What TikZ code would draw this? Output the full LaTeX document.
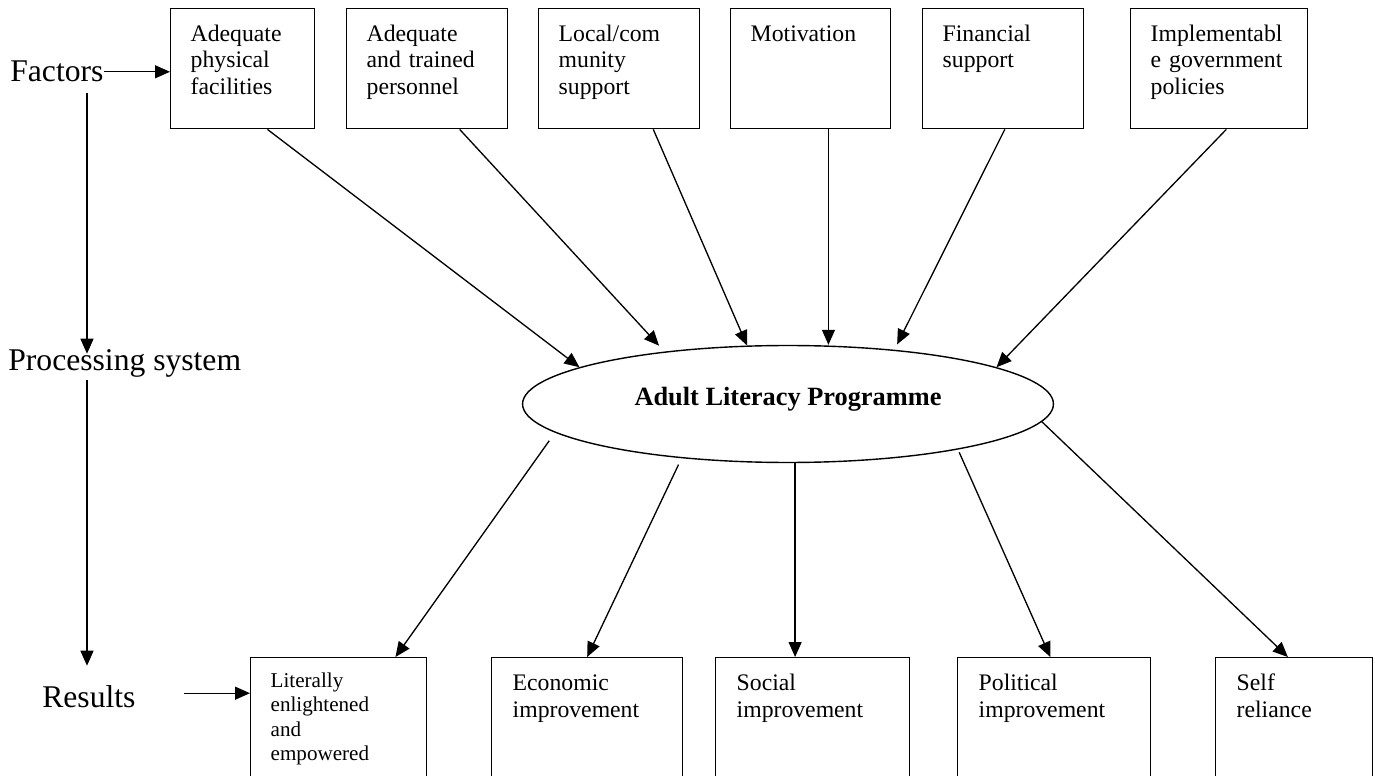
\documentclass[tikz,border=0pt]{standalone}
\usepackage{fontspec}
\setmainfont{Liberation Serif}
\usetikzlibrary{shapes.geometric}
\usetikzlibrary{arrows.meta}
\usetikzlibrary{calc}

\begin{document}
\begin{tikzpicture}[
  x=0.02cm, y=-0.02cm,
  factor/.style={draw, line width=0.8pt, anchor=north west, align=left, inner xsep=0.4cm, inner ysep=0.32cm, text height=0.335cm, text depth=1.425cm, font=\fontsize{13.5}{15.1}\selectfont},
  result/.style={factor, inner xsep=0.42cm, text depth=1.825cm, font=\fontsize{13.5}{15.6}\selectfont},
  stage/.style={anchor=base west, inner sep=0pt, font=\fontsize{18}{20}\selectfont},
  arrow/.style={-{Triangle[length=0.3cm, width=0.26cm]}, line width=0.75pt}
]
\useasboundingbox (0,0) rectangle (1375,776);

% stages on the left
\node[stage] (fac)  at (10,82)  {Factors};
\node[stage] (proc) at (8,371)  {Processing system};
\node[stage] (res)  at (42,707) {Results};
\coordinate (lx) at (87,0);

% factors
\node[factor, text width=2.08cm] (f1) at (170,8)  {Adequate\\physical\\facilities};
\node[factor, text width=2.42cm] (f2) at (346,8)  {Adequate\\and trained\\personnel};
\node[factor, text width=2.42cm] (f3) at (538,8)  {Local/com\\munity\\support};
\node[factor, text width=2.40cm] (f4) at (730,8)  {Motivation};
\node[factor, text width=2.42cm] (f5) at (922,8)  {Financial\\support};
\node[factor, text width=2.74cm] (f6) at (1130,8) {Implementabl\\e government\\policies};

% programme
\node[ellipse, draw, line width=0.8pt, minimum width=10.62cm, minimum height=2.34cm, inner sep=0pt, text depth=0.31cm, font=\fontsize{15}{18}\selectfont\bfseries] (prog) at (788,404) {Adult Literacy Programme};

% results
\node[result, text width=2.72cm, inner xsep=0.4cm, text height=0.28cm, text depth=1.88cm, font=\fontsize{12}{13.8}\selectfont] (r1) at (250,657) {Literally\\enlightened\\and\\empowered};
\node[result, text width=2.98cm] (r2) at (491,657)  {Economic\\improvement};
\node[result, text width=3.04cm] (r3) at (715,657)  {Social\\improvement};
\node[result, text width=3.02cm] (r4) at (957,657)  {Political\\improvement};
\node[result, text width=2.30cm] (r5) at (1215,657) {Self\\reliance};

% left column
\draw[arrow] (fac.east) -- (fac.east -| f1.west);
\draw[arrow] ($(fac.south -| lx)+(0,10)$) -- ($(proc.north -| lx)+(0,4)$);
\draw[arrow] ($(proc.south -| lx)+(0,2)$) -- ($(res.north -| lx)+(0,-19)$);
\draw[arrow] ($(res.east)+(48,-3)$) -- ($(res.east -| r1.west)+(0,-3)$);

% factors into programme
\draw[arrow] ($(f1.south west)!.67!(f1.south east)$) -- (prog.170);
\draw[arrow, shorten >=0.16cm] ($(f2.south west)!.70!(f2.south east)$) -- (prog.157);
\draw[arrow] ($(f3.south west)!.71!(f3.south east)$) -- (prog.125);
\draw[arrow] ($(f4.south west)!.61!(f4.south east)$) coordinate (m4) -- (m4 |- prog.north);
\draw[arrow, shorten >=0.12cm] ($(f5.south west)!.51!(f5.south east)$) -- (prog.27);
\draw[arrow] ($(f6.south west)!.54!(f6.south east)$) -- (prog.10);

% programme into results
\coordinate (t3) at ($(r3.north west)!.41!(r3.north east)$);
\draw[arrow, shorten <=0.2cm] (prog.187) -- ($(r1.north west)!.82!(r1.north east)$);
\draw[arrow, shorten <=0.14cm] (prog.207) -- ($(r2.north west)!.50!(r2.north east)$);
\draw[arrow] (t3 |- prog.south) -- (t3);
\draw[arrow, shorten <=0.06cm] (prog.345) -- ($(r4.north west)!.48!(r4.north east)$);
\draw[arrow] (prog.356) -- ($(r5.north west)!.46!(r5.north east)$);

\end{tikzpicture}
\end{document}
